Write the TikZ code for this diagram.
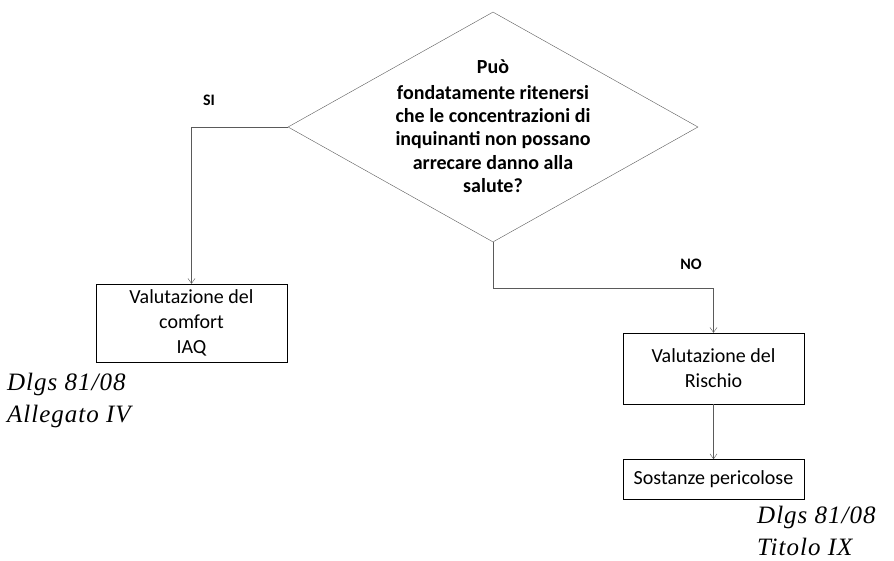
\documentclass[tikz,border=0pt]{standalone}
\usepackage{fontspec}
\setmainfont{Carlito}
\newfontfamily\handfont[LetterSpace=4]{Liberation Serif}
\usetikzlibrary{arrows.meta,shapes.geometric,positioning}
\definecolor{lineColor}{RGB}{90,90,90}
\tikzset{stepbox/.style={draw, align=center, inner sep=2pt, font=\fontsize{20}{25}\selectfont}}
\tikzset{question/.style={draw=lineColor, diamond, minimum width=410pt, minimum height=230pt, inner sep=0pt}}
\tikzset{answer/.style={font=\bfseries\fontsize{16}{18}\selectfont}}
\tikzset{norm/.style={font=\handfont\itshape\fontsize{25}{32}\selectfont, anchor=west, align=left, inner sep=0pt}}
\tikzstyle{arrow} = [-{Straight Barb[length=5pt,width=7pt]}, draw=lineColor]

\begin{document}
\begin{tikzpicture}[x=1pt, y=-1pt, node distance=55pt]
	\useasboundingbox (0,0) rectangle (894,560);
	% Nodes
	\node (question) [question] at (493,127) {};
	\node (questiontext) [align=center, font=\bfseries\fontsize{20}{23.3}\selectfont] at (493,126)
		{Può\\[3pt]fondatamente ritenersi\\che le  concentrazioni di\\inquinanti non possano\\arrecare danno alla\\salute?};

	\node (comfort) [stepbox, minimum width=191pt, minimum height=78pt] at (191.5,323) {Valutazione del\\comfort\\IAQ};
	\node (rischio) [stepbox, minimum width=181pt, minimum height=71pt] at (713.5,368.5) {Valutazione del\\Rischio};
	\node (sostanze) [stepbox, minimum width=181pt, minimum height=40pt, below=of rischio] {Sostanze pericolose};

	\node (si) [answer] at (209,100) {SI};
	\node (no) [answer] at (691,264) {NO};

	\node (normleft) [norm] at (7,400) {Dlgs 81/08\\Allegato IV};
	\node (normright) [norm] at (757,531) {Dlgs 81/08\\Titolo IX};

	% Connectors
	\draw [arrow] (question.west) -| (comfort.north);
	\draw [arrow] (question.south) -- ++(0,46) -| (rischio.north);
	\draw [arrow] (rischio) -- (sostanze);

\end{tikzpicture}
\end{document}
